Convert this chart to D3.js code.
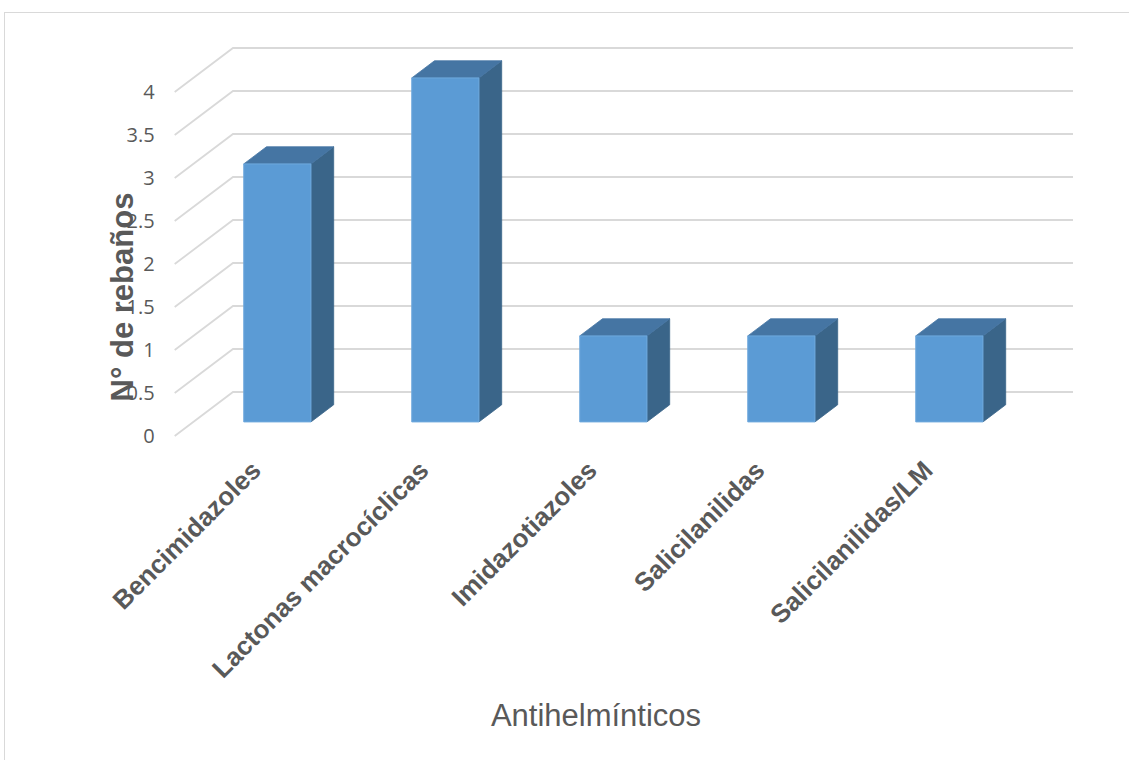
<!DOCTYPE html>
<html><head><meta charset="utf-8">
<script src="https://cdn.jsdelivr.net/npm/d3@7"></script>
<style>html,body{margin:0;padding:0;background:#fff;}svg{display:block;}</style>
</head><body>
<script>
const categories = ["Bencimidazoles","Lactonas macrocíclicas","Imidazotiazoles","Salicilanilidas","Salicilanilidas/LM"];
const values = [3,4,1,1,1];
const yTicks = [0,0.5,1,1.5,2,2.5,3,3.5,4];
const yTitle = "N° de rebaños";
const xTitle = "Antihelmínticos";

const W=1129,H=760;
const svg=d3.select("body").append("svg").attr("width",W).attr("height",H);
svg.append("rect").attr("x",4.5).attr("y",12.5).attr("width",1140).attr("height",800)
  .attr("fill","#fff").attr("stroke","#d9d9d9").attr("stroke-width",1);

// back wall scales
const x=d3.scaleBand().domain(categories).range([233,1073]).paddingInner(0.6).paddingOuter(0.3);
const y=d3.scaleLinear().domain([0,4]).range([392,48]);
const DX=-58.3, DY=44; // full depth offset
const z1=0.29, z2=0.68;
const proj=(px,py,z)=>[px+DX*z,py+DY*z];

// gridlines
const g=svg.append("g");
yTicks.forEach(t=>{
  const yb=y(t);
  const f=proj(233,yb,1);
  g.append("path").attr("d",`M${f[0]},${f[1]}L233,${yb}L1073,${yb}`)
   .attr("fill","none").attr("stroke","#d9d9d9").attr("stroke-width",1.8);
});

// y axis labels at front edge
const yFront=d3.scaleLinear().domain([0,4]).range([y(0)+DY,y(4)+DY]);
const ax=svg.append("g").attr("transform",`translate(${233+DX-20},0)`)
  .call(d3.axisLeft(yFront).tickValues(yTicks).tickSize(0).tickPadding(0).tickFormat(d3.format("")));
ax.select(".domain").remove();
ax.selectAll("text").attr("font-family","'Open Sans', 'Liberation Sans', sans-serif").attr("font-size",20).attr("fill","#595959");

// bars
const bars=svg.append("g");
categories.forEach((c,i)=>{
  const v=values[i];
  const x0=x(c), x1=x(c)+x.bandwidth();
  const yt=y(v), yb=y(0);
  const F=(px,py)=>proj(px,py,z2), B=(px,py)=>proj(px,py,z1);
  const pts=a=>a.map(p=>p.join(",")).join(" ");
  bars.append("polygon").attr("points",pts([F(x1,yt),B(x1,yt),B(x1,yb),F(x1,yb)]))
    .attr("fill","#3a6589").attr("stroke","#3a6589").attr("stroke-width",0.8);
  bars.append("polygon").attr("points",pts([F(x0,yt),B(x0,yt),B(x1,yt),F(x1,yt)]))
    .attr("fill","#4575a3").attr("stroke","#4575a3").attr("stroke-width",0.8);
  bars.append("polygon").attr("points",pts([F(x0,yt),F(x1,yt),F(x1,yb),F(x0,yb)]))
    .attr("fill","#5b9bd5").attr("stroke","#6fa9dd").attr("stroke-width",1);
});

// x labels
categories.forEach((c,i)=>{
  const cx=x(c)+x.bandwidth()/2+DX*z2;
  svg.append("text").attr("transform",`translate(${cx-15},472) rotate(-45)`)
    .attr("text-anchor","end").attr("font-family","'Liberation Sans', Arial, sans-serif")
    .attr("font-weight","bold").attr("font-size",26).attr("fill","#595959").text(c);
});

// titles
svg.append("text").attr("transform","translate(122,297) rotate(-90)")
  .attr("text-anchor","middle").attr("dominant-baseline","central")
  .attr("font-family","'Liberation Sans', Arial, sans-serif").attr("font-weight","bold")
  .attr("font-size",31).attr("fill","#595959").text(yTitle);
svg.append("text").attr("x",596).attr("y",726).attr("text-anchor","middle")
  .attr("font-family","'Liberation Sans', Arial, sans-serif")
  .attr("font-size",31).attr("fill","#595959").text(xTitle);
</script>
</body></html>
